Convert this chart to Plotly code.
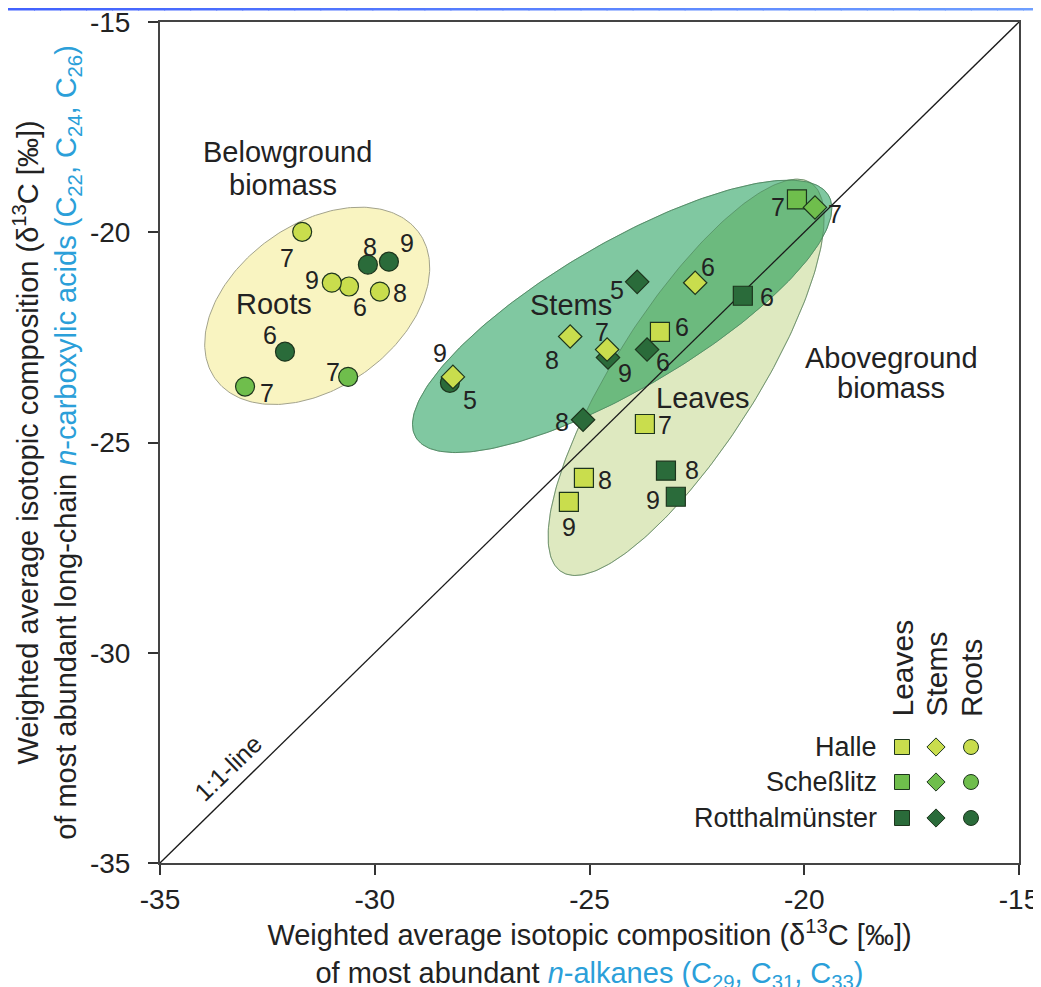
import numpy as np
import plotly.graph_objects as go

# ------------------------------------------------------------------ data
# Leaves (squares)
leaves_halle_x = [-23.36, -23.71, -25.13, -25.48]
leaves_halle_y = [-22.37, -24.56, -25.84, -26.41]
leaves_halle_lbl = ["6", "7", "8", "9"]
leaves_schesslitz_x = [-20.17]
leaves_schesslitz_y = [-19.22]
leaves_schesslitz_lbl = ["7"]
leaves_rott_x = [-21.43, -23.22, -22.99]
leaves_rott_y = [-21.51, -25.67, -26.29]
leaves_rott_lbl = ["6", "8", "9"]

# Stems (diamonds)
stems_halle_x = [-22.54, -24.59, -25.45, -28.18]
stems_halle_y = [-21.20, -22.79, -22.48, -23.44]
stems_halle_lbl = ["6", "7", "8", "9"]
stems_schesslitz_x = [-19.75]
stems_schesslitz_y = [-19.41]
stems_schesslitz_lbl = ["7"]
stems_rott_x = [-23.89, -23.66, -25.15, -24.57]
stems_rott_y = [-21.18, -22.79, -24.46, -22.98]
stems_rott_lbl = ["5", "6", "8", "9"]

# Roots (circles)
roots_halle_x = [-30.60, -31.69, -29.88, -31.00]
roots_halle_y = [-21.29, -19.99, -21.41, -21.20]
roots_halle_lbl = ["6", "7", "8", "9"]
roots_schesslitz_x = [-33.02, -30.62]
roots_schesslitz_y = [-23.67, -23.44]
roots_schesslitz_lbl = ["7", "7"]
roots_rott_x = [-28.25, -32.09, -30.16, -29.67]
roots_rott_y = [-23.58, -22.84, -20.77, -20.70]
roots_rott_lbl = ["5", "6", "8", "9"]

tick_vals = [-35, -30, -25, -20, -15]
tick_text = ["-35", "-30", "-25", "-20", "-15"]

sites = ["Halle", "Scheßlitz", "Rotthalmünster"]
organs = ["Leaves", "Stems", "Roots"]

# ------------------------------------------------------------------ style
FONT = "Liberation Sans, Arial, Helvetica, sans-serif"
INK = "#222222"
BLUE_TXT = "#2b9fd9"
C_SITE = {"Halle": "#c9dd4d", "Scheßlitz": "#6fbe4c", "Rotthalmünster": "#2a6b3a"}
EDGE = "#1d351d"
SYM = {"Leaves": "square", "Stems": "diamond", "Roots": "circle"}

W, H = 1041, 987
OFF = 8  # page offset of the figure (body margin)
ML, MR, MT, MB = 152, 30, 14, 132

# label offsets in screen pixels (dx right, dy down)
off_leaves_halle = [(22, -5), (20, 1), (21, 2), (0, 25)]
off_leaves_schesslitz = [(-19, 8)]
off_leaves_rott = [(24, 1), (26, -1), (-23, 3)]
off_stems_halle = [(13, -16), (-5, -18), (-18, 23), (-13, -24)]
off_stems_schesslitz = [(20, 7)]
off_stems_rott = [(-20, 8), (16, 12), (-21, 2), (17, 15)]
off_roots_halle = [(11, 21), (-15, 26), (20, 1), (-20, -3)]
off_roots_schesslitz = [(22, 6), (-15, -5)]
off_roots_rott = [(20, 17), (-15, -17), (2, -18), (18, -19)]


def px2p(px):
    return (px - OFF - ML) / (W - ML - MR)


def py2p(py):
    return (H - MB - (py - OFF)) / (H - MT - MB)


def fx2p(fx):
    return (fx - ML) / (W - ML - MR)


def fy2p(fy):
    return (H - MB - fy) / (H - MT - MB)


def ellipse(cx, cy, a, b, deg, n=240):
    t = np.linspace(0, 2 * np.pi, n, endpoint=False)
    th = np.radians(deg)
    x = cx + a * np.cos(t) * np.cos(th) - b * np.sin(t) * np.sin(th)
    y = cy + a * np.cos(t) * np.sin(th) + b * np.sin(t) * np.cos(th)
    return list(zip(x, y))


def clip_poly(subject, clipper):
    def inside(p, a, b):
        return (b[0] - a[0]) * (p[1] - a[1]) - (b[1] - a[1]) * (p[0] - a[0]) >= 0

    def inter(p1, p2, a, b):
        x1, y1 = p1; x2, y2 = p2; x3, y3 = a; x4, y4 = b
        d = (x1 - x2) * (y3 - y4) - (y1 - y2) * (x3 - x4)
        t = ((x1 - x3) * (y3 - y4) - (y1 - y3) * (x3 - x4)) / d
        return (x1 + t * (x2 - x1), y1 + t * (y2 - y1))

    out = list(subject)
    for i in range(len(clipper)):
        a, b = clipper[i - 1], clipper[i]
        inp, out = out, []
        if not inp:
            break
        s = inp[-1]
        for e in inp:
            if inside(e, a, b):
                if not inside(s, a, b):
                    out.append(inter(s, e, a, b))
                out.append(e)
            elif inside(s, a, b):
                out.append(inter(s, e, a, b))
            s = e
    return out


def closed(pts):
    xs = [p[0] for p in pts] + [pts[0][0]]
    ys = [p[1] for p in pts] + [pts[0][1]]
    return xs, ys


fig = go.Figure()

# ------------------------------------------------------------------ ellipses
roots_ell = ellipse(-31.34, -21.75, 2.94, 1.93, 37)
leaves_ell = ellipse(-22.75, -23.45, 5.46, 1.65, 58)
stems_ell = ellipse(-24.24, -22.0, 5.60, 1.72, 31)
overlap = clip_poly(stems_ell, leaves_ell)

for pts, fc, lc in [
    (roots_ell, "#f9f4c1", "#a3a38c"),
    (leaves_ell, "#dee9c0", "#a8b897"),
    (stems_ell, "#80c8a1", "#6aa886"),
    (overlap, "#6cba7e", "rgba(0,0,0,0)"),
]:
    xs, ys = closed(pts)
    fig.add_trace(go.Scatter(x=xs, y=ys, mode="lines", fill="toself", fillcolor=fc,
                             line=dict(color=lc, width=1), hoverinfo="skip", showlegend=False))
for pts in (leaves_ell, stems_ell):
    xs, ys = closed(pts)
    fig.add_trace(go.Scatter(x=xs, y=ys, mode="lines", line=dict(color="rgba(70,120,80,0.55)", width=1),
                             hoverinfo="skip", showlegend=False))

# 1:1 line
fig.add_trace(go.Scatter(x=[tick_vals[0], tick_vals[-1]], y=[tick_vals[0], tick_vals[-1]], mode="lines",
                         line=dict(color="#1a1a1a", width=1.3), hoverinfo="skip", showlegend=False))

# ------------------------------------------------------------------ markers
series = [
    ("Roots", "Rotthalmünster", roots_rott_x, roots_rott_y, roots_rott_lbl, off_roots_rott),
    ("Roots", "Scheßlitz", roots_schesslitz_x, roots_schesslitz_y, roots_schesslitz_lbl, off_roots_schesslitz),
    ("Roots", "Halle", roots_halle_x, roots_halle_y, roots_halle_lbl, off_roots_halle),
    ("Leaves", "Rotthalmünster", leaves_rott_x, leaves_rott_y, leaves_rott_lbl, off_leaves_rott),
    ("Leaves", "Scheßlitz", leaves_schesslitz_x, leaves_schesslitz_y, leaves_schesslitz_lbl, off_leaves_schesslitz),
    ("Leaves", "Halle", leaves_halle_x, leaves_halle_y, leaves_halle_lbl, off_leaves_halle),
    ("Stems", "Rotthalmünster", stems_rott_x, stems_rott_y, stems_rott_lbl, off_stems_rott),
    ("Stems", "Scheßlitz", stems_schesslitz_x, stems_schesslitz_y, stems_schesslitz_lbl, off_stems_schesslitz),
    ("Stems", "Halle", stems_halle_x, stems_halle_y, stems_halle_lbl, off_stems_halle),
]

annotations = []
for organ, site, xs, ys, lbls, offs in series:
    fig.add_trace(go.Scatter(
        x=xs, y=ys, mode="markers", name=f"{organ} – {site}", showlegend=False,
        marker=dict(symbol=SYM[organ], size=19 if organ != "Stems" else 18, color=C_SITE[site],
                    line=dict(color=EDGE, width=1.2)),
        text=lbls, hovertemplate=f"{organ}, {site} (%{{text}})<br>x=%{{x}}<br>y=%{{y}}<extra></extra>"))
    for x, y, l, (dx, dy) in zip(xs, ys, lbls, offs):
        annotations.append(dict(x=x, y=y, xref="x", yref="y", text=l, showarrow=False,
                                xshift=dx, yshift=-dy, font=dict(size=25, color=INK, family=FONT)))

# ------------------------------------------------------------------ region labels
for txt, x, y in [("Belowground", -32.02, -18.08), ("biomass", -32.14, -18.87),
                  ("Roots", -32.35, -21.70), ("Stems", -25.43, -21.72), ("Leaves", -22.36, -23.94),
                  ("Aboveground", -17.96, -22.98), ("biomass", -17.98, -23.70)]:
    annotations.append(dict(x=x, y=y, xref="x", yref="y", text=txt, showarrow=False,
                            font=dict(size=29, color=INK, family=FONT)))

annotations.append(dict(x=-33.42, y=-32.74, xref="x", yref="y", text="1:1-line", showarrow=False,
                        textangle=-44, font=dict(size=25, color=INK, family=FONT)))

# ------------------------------------------------------------------ custom legend
col_px = [902, 936, 971]
row_py = [747, 782, 818]
for site, py in zip(sites, row_py):
    annotations.append(dict(x=px2p(879), y=py2p(py), xref="paper", yref="paper", text=site,
                            xanchor="right", yanchor="middle", showarrow=False,
                            font=dict(size=27, color=INK, family=FONT)))
for organ, px in zip(organs, col_px):
    annotations.append(dict(x=px2p(px), y=py2p(719), xref="paper", yref="paper", text=organ,
                            textangle=-90, xanchor="center", yanchor="bottom", showarrow=False,
                            font=dict(size=30, color=INK, family=FONT)))
    lx = [tick_vals[0] + px2p(px) * (tick_vals[-1] - tick_vals[0])] * len(sites)
    ly = [tick_vals[0] + py2p(py) * (tick_vals[-1] - tick_vals[0]) for py in row_py]
    fig.add_trace(go.Scatter(x=lx, y=ly, mode="markers", showlegend=False, hoverinfo="skip",
                             marker=dict(symbol=SYM[organ], size=15 if organ != "Stems" else 14,
                                         color=[C_SITE[s] for s in sites],
                                         line=dict(color=EDGE, width=1))))

# ------------------------------------------------------------------ blue frame (gradient strips)
shapes = []


def lerp(c1, c2, t):
    c1 = [int(c1[i:i + 2], 16) for i in (1, 3, 5)]
    c2 = [int(c2[i:i + 2], 16) for i in (1, 3, 5)]
    return "rgb(%d,%d,%d)" % tuple(round(a + (b - a) * t) for a, b in zip(c1, c2))


N = 40
for i in range(N):
    x0 = W * i / N
    x1 = W * (i + 1) / N + 1
    shapes.append(dict(type="rect", xref="paper", yref="paper", layer="above",
                       x0=fx2p(x0), x1=fx2p(x1), y0=fy2p(2.5), y1=fy2p(0),
                       fillcolor=lerp("#4262fe", "#6e9fff", i / (N - 1)), line=dict(width=0)))
    y0 = H * i / N
    y1 = H * (i + 1) / N + 1
    shapes.append(dict(type="rect", xref="paper", yref="paper", layer="above",
                       x0=fx2p(1030), x1=fx2p(W), y0=fy2p(y1), y1=fy2p(y0),
                       fillcolor=lerp("#6e9fff", "#6a9cff", i / (N - 1)), line=dict(width=0)))

# ------------------------------------------------------------------ layout
xtitle = ("Weighted average isotopic composition (δ<sup>13</sup>C [‰])<br>"
          "of most abundant <span style='color:%s'><i>n</i>-alkanes (C<sub>29</sub>, "
          "C<sub>31</sub>, C<sub>33</sub>)</span>" % BLUE_TXT)
ytitle = ("Weighted average isotopic composition (δ<sup>13</sup>C [‰])<br>"
          "of most abundant long-chain <span style='color:%s'><i>n</i>-carboxylic acids "
          "(C<sub>22</sub>, C<sub>24</sub>, C<sub>26</sub>)</span>" % BLUE_TXT)

axis_common = dict(range=[tick_vals[0], tick_vals[-1]], tickvals=tick_vals, ticktext=tick_text,
                   ticks="outside", ticklen=10, tickwidth=1.5, tickcolor="#333",
                   showgrid=False, zeroline=False, showline=True, linecolor="#444", linewidth=2,
                   mirror=True, automargin=False, ticklabeloverflow="allow",
                   tickfont=dict(size=28, color=INK, family=FONT))

fig.update_layout(
    width=W, height=H,
    margin=dict(l=ML, r=MR, t=MT, b=MB, autoexpand=False),
    paper_bgcolor="white", plot_bgcolor="white",
    font=dict(family=FONT, color=INK),
    xaxis=dict(**axis_common, title=dict(text=xtitle, font=dict(size=29, color=INK, family=FONT), standoff=11)),
    yaxis=dict(**axis_common, ticklabelstandoff=12,
               title=dict(text=ytitle, font=dict(size=29, color=INK, family=FONT), standoff=6)),
    annotations=annotations,
    shapes=shapes,
    showlegend=False,
)

fig.write_html("out.html")
